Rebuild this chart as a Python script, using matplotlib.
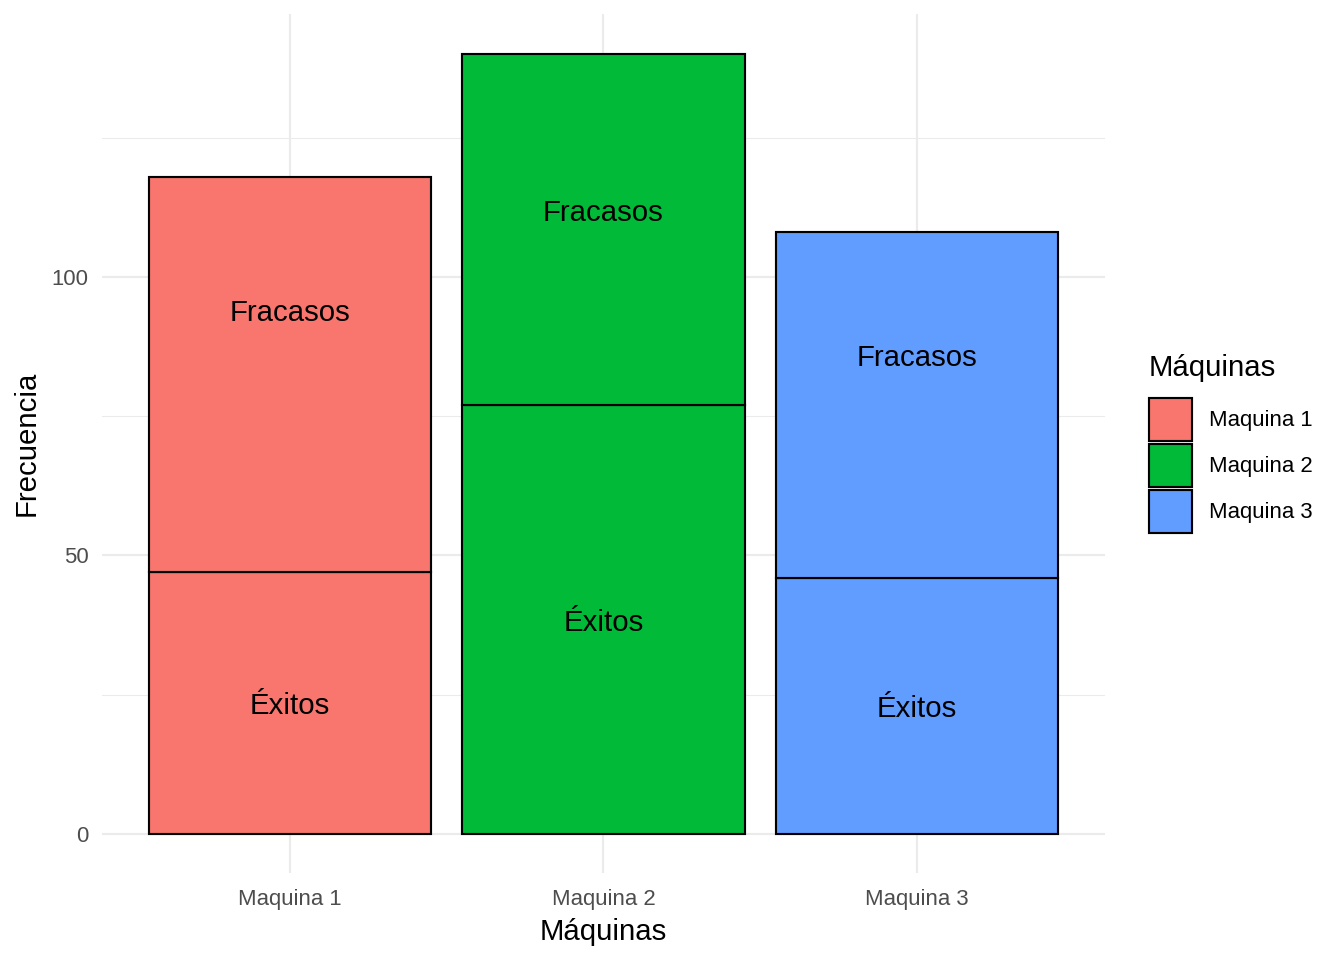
import matplotlib
matplotlib.use("Agg")
import matplotlib.pyplot as plt
from matplotlib.patches import Patch
import numpy as np

plt.rcParams["font.family"] = ["Liberation Sans", "DejaVu Sans"]

# data
maquinas = ["Maquina 1", "Maquina 2", "Maquina 3"]
exitos = [47, 77, 46]
fracasos = [71, 63, 62]
# label heights as they appear in the original
exitos_label_y = [23.5, 38.5, 23]
fracasos_label_y = [94, 112, 86]
colores = ["#F8766D", "#00BA38", "#619CFF"]

fig = plt.figure(figsize=(7, 5), dpi=192)
ax = fig.add_axes([102 / 1344, 1 - 873 / 960, 1003 / 1344, 859 / 960])

x = np.arange(1, len(maquinas) + 1)
ax.bar(x, exitos, width=0.9, color=colores, edgecolor="black", linewidth=0.8, zorder=3)
ax.bar(x, fracasos, width=0.9, bottom=exitos, color=colores, edgecolor="black",
       linewidth=0.8, zorder=3)

for xi, ey, fy in zip(x, exitos_label_y, fracasos_label_y):
    ax.text(xi, ey, "Éxitos", ha="center", va="center_baseline", fontsize=11, zorder=4)
    ax.text(xi, fy, "Fracasos", ha="center", va="center_baseline", fontsize=11, zorder=4)

ax.set_xlim(0.4, 3.6)
ax.set_ylim(-7, 147.2)
ax.set_xticks(x)
ax.set_xticklabels(maquinas)
ax.set_yticks([0, 50, 100])
ax.set_yticks([25, 75, 125], minor=True)
ax.tick_params(axis="both", which="both", length=0, labelsize=8.3, labelcolor="#4D4D4D")
ax.tick_params(axis="x", pad=6)
ax.tick_params(axis="y", pad=5)
ax.grid(True, which="major", color="#EBEBEB", linewidth=0.8, zorder=0)
ax.grid(True, which="minor", axis="y", color="#EBEBEB", linewidth=0.4, zorder=0)
for s in ax.spines.values():
    s.set_visible(False)

ax.set_xlabel("Máquinas", fontsize=11, labelpad=3)
ax.set_ylabel("Frecuencia", fontsize=11, labelpad=4)

handles = [Patch(facecolor=c, edgecolor="black", linewidth=0.8, label=m)
           for c, m in zip(colores, maquinas)]
leg = ax.legend(handles=handles, title="Máquinas", loc="center left",
                bbox_to_anchor=(1.035, 0.5), frameon=False, fontsize=8.3,
                title_fontsize=11, handlelength=1.94, handleheight=2.61,
                labelspacing=0.14, handletextpad=0.77, borderaxespad=0)
leg._legend_box.align = "left"
leg._legend_box.sep = 6

fig.savefig("out.png", dpi=192)
